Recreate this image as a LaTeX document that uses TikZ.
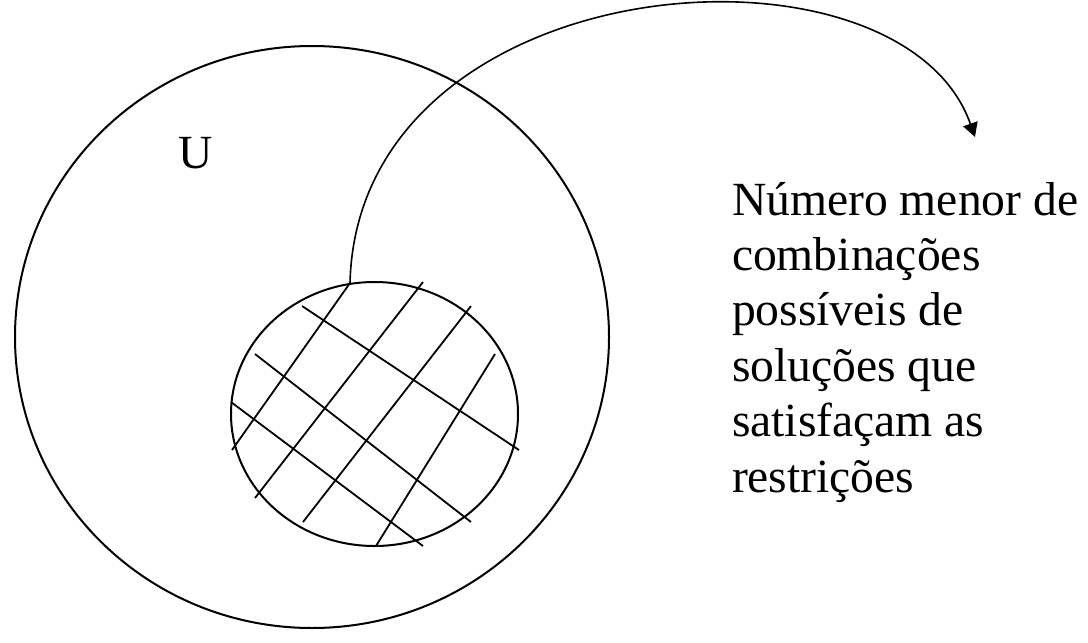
\documentclass[tikz,border=0pt]{standalone}
\usepackage{fontspec}
\setmainfont{Liberation Serif}
\usetikzlibrary{arrows.meta}
\begin{document}
\begin{tikzpicture}[x=0.5pt,y=-0.5pt,line width=1pt,
  hatch/.style={line width=0.9pt},
  big text/.style={font=\fontsize{23.8}{27.7}\selectfont,inner sep=0pt}]
\useasboundingbox (0,0) rectangle (1088,643);
% universe and the smaller set
\draw (312,337) ellipse [x radius=297,y radius=291];
\draw (374.5,414) ellipse [x radius=143.5,y radius=132];
\node[big text,anchor=base] (u) at (195.5,168) {U};
% hatching
\foreach \a/\b/\c/\d in {232/450/350/283, 255/498/423/282, 303/522/471/306, 376/546/495/354}
   \draw[hatch] (\a,\b) -- (\c,\d);
\foreach \a/\b/\c/\d in {302/306/519/450, 255/354/471/522, 231/402/423/546}
   \draw[hatch] (\a,\b) -- (\c,\d);
\node[big text,anchor=base west,align=left] (txt) at (731,492)
   {Número menor de\\combinações\\possíveis de\\soluções que\\satisfaçam as\\restrições};
\coordinate (from) at (350,283);
\coordinate (to) at (975,137);
\draw[line width=0.8pt,-{Triangle[length=7pt,width=7.5pt]}]
   (from) .. controls (358,-36) and (900,-76) .. (to);
\end{tikzpicture}
\end{document}
